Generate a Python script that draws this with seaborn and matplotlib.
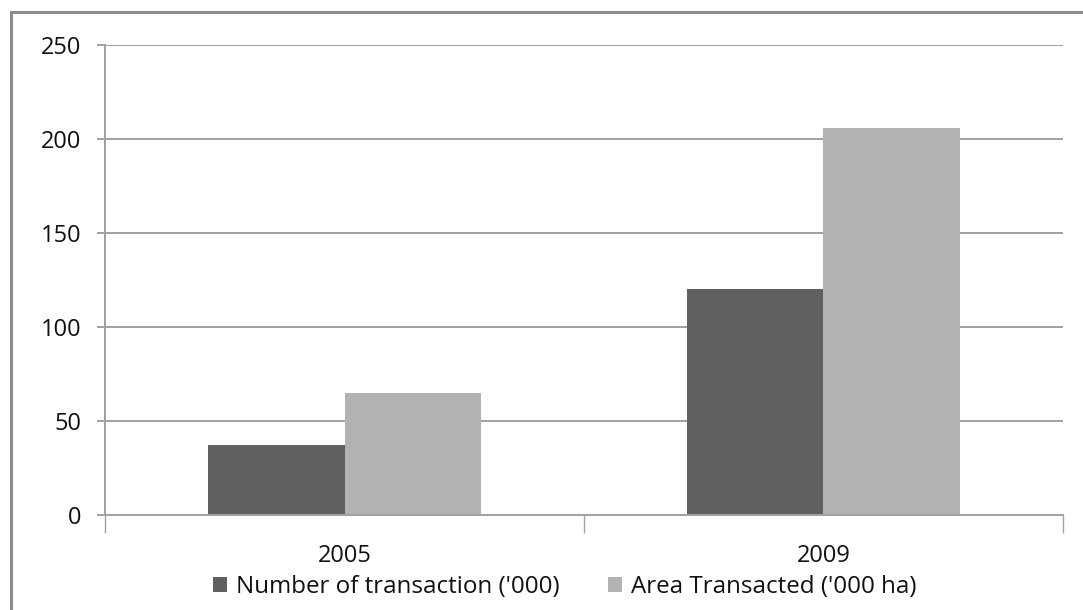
import matplotlib
matplotlib.use("Agg")
import matplotlib.pyplot as plt
from matplotlib.patches import Rectangle
from matplotlib import font_manager
import seaborn as sns
import pandas as pd

years = ["2005", "2009"]
series_names = ["Number of transaction ('000)", "Area Transacted ('000 ha)"]
number_of_transactions = [37, 120]
area_transacted = [65, 206]
y_ticks = [0, 50, 100, 150, 200, 250]

df = pd.DataFrame({
    "year": years * 2,
    "series": [series_names[0]] * len(years) + [series_names[1]] * len(years),
    "value": number_of_transactions + area_transacted,
})

sns.set_theme(style="white")
installed = {f.name for f in font_manager.fontManager.ttflist}
families = [f for f in ["Open Sans", "DejaVu Sans"] if f in installed]
plt.rcParams["font.family"] = families

fig = plt.figure(figsize=(10.83, 6.10), dpi=100)
ax = fig.add_axes([0.097, 0.1557, 0.8845, 0.7705])

palette = {series_names[0]: "#606060", series_names[1]: "#b2b2b2"}
sns.barplot(data=df, x="year", y="value", hue="series", hue_order=series_names,
            palette=palette, width=0.57, saturation=1, ax=ax, legend=True,
            edgecolor="none", linewidth=0)

ax.set_ylim(0, 250)
ax.set_xlim(-0.5, 1.5)
ax.set_yticks(y_ticks)
ax.set_yticklabels([str(v) for v in y_ticks], fontsize=17, color="#111111")
ax.yaxis.grid(True, color="#a0a0a0", linewidth=1.4)
ax.set_axisbelow(True)
ax.set_xlabel("")
ax.set_ylabel("")

for side in ["top", "right"]:
    ax.spines[side].set_visible(False)
ax.spines["left"].set_color("#a0a0a0")
ax.spines["left"].set_linewidth(1.4)
ax.spines["bottom"].set_color("#a0a0a0")
ax.spines["bottom"].set_linewidth(1.4)

# y ticks point outward to the labels
ax.tick_params(axis="y", which="both", left=True, length=6, width=1.4, color="#a0a0a0", pad=11)
# x category separators as minor ticks, labels on major positions
ax.set_xticks([-0.5, 0.5, 1.5], minor=True)
ax.tick_params(axis="x", which="minor", bottom=True, length=13, width=1.0, color="#a0a0a0")
ax.tick_params(axis="x", which="major", bottom=False, labelsize=17, labelcolor="#111111", pad=15)

# legend below the category labels
handles, labels = ax.get_legend_handles_labels()
ax.get_legend().remove()
leg = fig.legend(handles, labels, loc="center", bbox_to_anchor=(565 / 1083, 0.038), ncol=2,
                 frameon=False, fontsize=17.4, handlelength=0.55, handleheight=0.55,
                 handletextpad=0.4, columnspacing=2.0, borderaxespad=0, borderpad=0)
for t in leg.get_texts():
    t.set_color("#111111")

# outer chart border
fig.patches.append(Rectangle((11 / 1083, -0.05), 1.1, (610 - 12) / 610 + 0.05,
                             transform=fig.transFigure, fill=False,
                             edgecolor="#8c8c8c", linewidth=2.2, zorder=0))

fig.savefig("out.png", dpi=100)
